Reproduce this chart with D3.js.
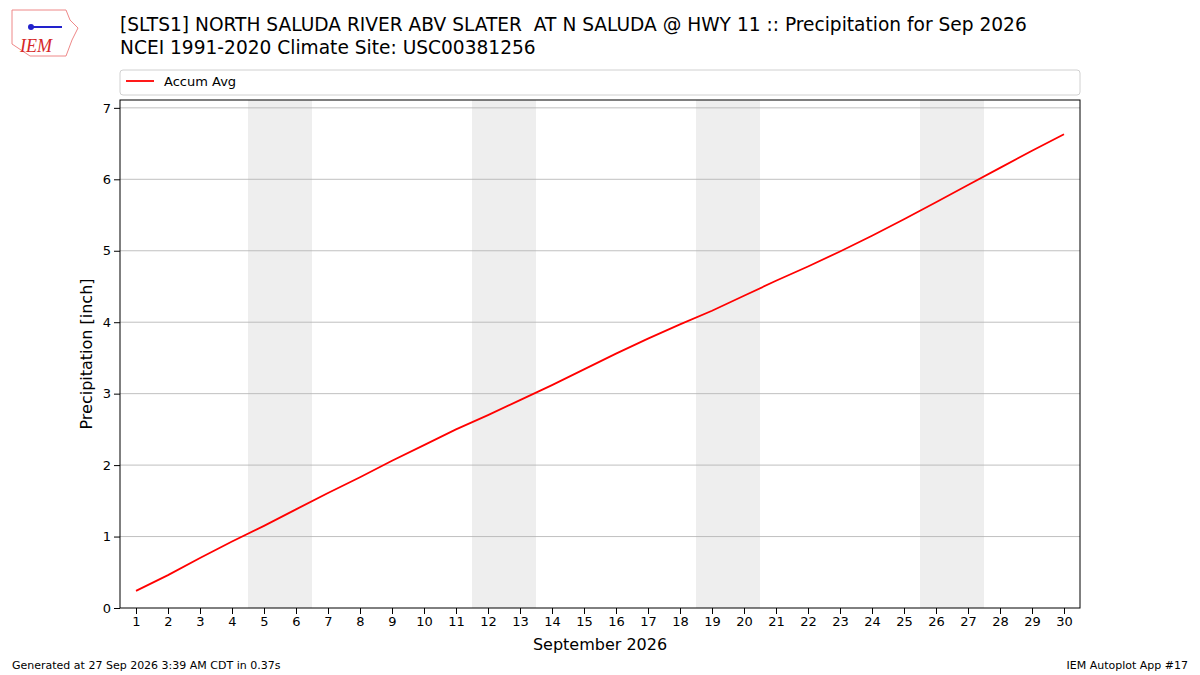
<!DOCTYPE html>
<html lang="en">
<head>
<meta charset="UTF-8">
<title>Precipitation</title>
<script src="https://cdn.jsdelivr.net/npm/d3@7"></script>
<style>body{margin:0;background:#fff;font-family:"DejaVu Sans",sans-serif;} text{white-space:pre;}</style>
</head>
<body>
<script>
var days = d3.range(1, 31);
var accumAvg = [0.24,0.46,0.70,0.93,1.15,1.38,1.61,1.83,2.06,2.28,2.50,2.70,2.91,3.12,3.34,3.56,3.77,3.97,4.16,4.37,4.58,4.78,4.99,5.21,5.44,5.68,5.92,6.16,6.40,6.63];
var weekendStarts = [5, 12, 19, 26];
var yTicks = [0,1,2,3,4,5,6,7];

var svg = d3.select("body").append("svg").attr("width",1200).attr("height",675);
var L=120,R=1080,T=100,B=608;
var x = d3.scaleLinear().domain([0.5,30.5]).range([L,R]);
var y = d3.scaleLinear().domain([0,7.11]).range([B,T]);

svg.selectAll("rect.we").data(weekendStarts).enter().append("rect")
  .attr("x",d=>x(d-0.5)).attr("width",d=>x(d+1.5)-x(d-0.5))
  .attr("y",T).attr("height",B-T).attr("fill","#eeeeee");

svg.selectAll("line.grid").data(yTicks.slice(1)).enter().append("line")
  .attr("x1",L).attr("x2",R).attr("y1",d=>y(d)).attr("y2",d=>y(d))
  .attr("stroke","#b0b0b0").attr("stroke-width",0.8);

var line = d3.line().x((d,i)=>x(days[i])).y(d=>y(d));
svg.append("path").attr("d",line(accumAvg)).attr("fill","none").attr("stroke","red").attr("stroke-width",1.8);

svg.append("rect").attr("x",L).attr("y",T).attr("width",R-L).attr("height",B-T)
  .attr("fill","none").attr("stroke","#000").attr("stroke-width",1);

var xa = svg.append("g").attr("transform","translate(0,"+B+")")
  .call(d3.axisBottom(x).tickValues(days).tickFormat(d3.format("d")).tickSizeOuter(0));
var ya = svg.append("g").attr("transform","translate("+L+",0)")
  .call(d3.axisLeft(y).tickValues(yTicks).tickSizeOuter(0));
[xa,ya].forEach(a=>{a.select(".domain").remove();a.selectAll("line").attr("stroke","#000");a.selectAll("text").attr("font-size",13).attr("font-family","DejaVu Sans").attr("fill","#000");});

svg.append("text").attr("x",600).attr("y",650).attr("text-anchor","middle").attr("font-size",16).text("September 2026");
svg.append("text").attr("transform","translate(92,354) rotate(-90)").attr("text-anchor","middle").attr("font-size",16).text("Precipitation [inch]");

svg.append("text").attr("x",120).attr("y",31).attr("font-size",18.6).text("[SLTS1] NORTH SALUDA RIVER ABV SLATER  AT N SALUDA @ HWY 11 :: Precipitation for Sep 2026");
svg.append("text").attr("x",120).attr("y",54).attr("font-size",18.6).text("NCEI 1991-2020 Climate Site: USC00381256");

// legend
svg.append("rect").attr("x",L).attr("y",70).attr("width",R-L).attr("height",25).attr("rx",3)
  .attr("fill","#fff").attr("stroke","#d0d0d0");
svg.append("line").attr("x1",126).attr("x2",154).attr("y1",81).attr("y2",81).attr("stroke","red").attr("stroke-width",1.8);
svg.append("text").attr("x",164).attr("y",86).attr("font-size",13).text("Accum Avg");

// logo
svg.append("path").attr("d","M12,10 L66,10 L70,20 L78,28 L72,40 L66,56 L30,56 L12,44 Z")
  .attr("fill","none").attr("stroke","#e88").attr("stroke-width",1);
svg.append("text").attr("x",20).attr("y",52).attr("font-size",18).attr("font-style","italic")
  .attr("font-family","Liberation Serif").attr("fill","#d62728").text("IEM");
svg.append("line").attr("x1",30).attr("x2",62).attr("y1",27).attr("y2",27).attr("stroke","#22c").attr("stroke-width",2);
svg.append("circle").attr("cx",31).attr("cy",27).attr("r",3).attr("fill","#22c");

svg.append("text").attr("x",12).attr("y",669).attr("font-size",11).text("Generated at 27 Sep 2026 3:39 AM CDT in 0.37s");
svg.append("text").attr("x",1188).attr("y",669).attr("text-anchor","end").attr("font-size",11).text("IEM Autoplot App #17");
</script>
</body>
</html>
